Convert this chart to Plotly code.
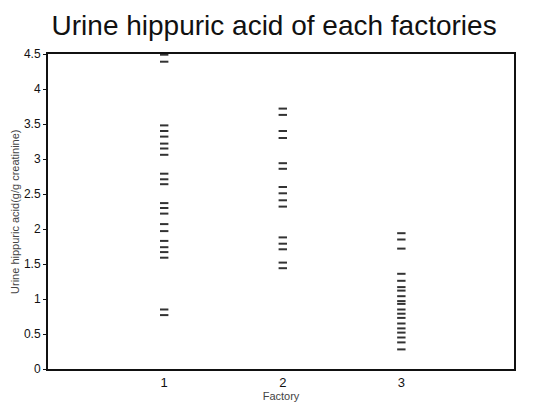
import plotly.graph_objects as go

factory = ["1", "2", "3"]
factory_x = [1, 2, 3]

hippuric_f1 = [4.49, 4.39, 3.48, 3.40, 3.32, 3.22, 3.15, 3.06, 2.79, 2.71, 2.64,
               2.37, 2.30, 2.22, 2.07, 1.97, 1.83, 1.74, 1.67, 1.59, 0.85, 0.77]
hippuric_f2 = [3.72, 3.63, 3.40, 3.30, 2.94, 2.86, 2.60, 2.51, 2.41, 2.32,
               1.88, 1.79, 1.71, 1.52, 1.44]
hippuric_f3 = [1.94, 1.85, 1.72, 1.36, 1.26, 1.17, 1.12, 1.04, 0.97, 0.93, 0.85,
               0.79, 0.73, 0.65, 0.58, 0.52, 0.45, 0.38, 0.28]

y_ticks = [0, 0.5, 1, 1.5, 2, 2.5, 3, 3.5, 4, 4.5]
y_tick_text = ["0", "0.5", "1", "1.5", "2", "2.5", "3", "3.5", "4", "4.5"]

fig = go.Figure()
for xv, vals in zip(factory_x, [hippuric_f1, hippuric_f2, hippuric_f3]):
    fig.add_trace(go.Scatter(
        x=[xv] * len(vals),
        y=vals,
        mode="markers",
        marker=dict(symbol="line-ew-open", size=6, color="#333",
                    line=dict(color="#333", width=2)),
        showlegend=False,
    ))

font = "Liberation Sans, Arial, sans-serif"
fig.update_layout(
    width=528,
    height=409,
    paper_bgcolor="white",
    plot_bgcolor="white",
    margin=dict(l=40, r=22, t=46, b=48),
    font=dict(family=font, color="#111"),
    title=dict(text="Urine hippuric acid of each factories",
               font=dict(size=28, color="#111"),
               x=0.504, xanchor="center", y=0.982, yanchor="top"),
)
fig.update_xaxes(
    range=[0.02, 3.95],
    tickvals=factory_x,
    ticktext=factory,
    ticks="",
    showgrid=False,
    zeroline=False,
    automargin=False,
    showline=True, linecolor="#111", linewidth=2, mirror=True,
    tickfont=dict(size=13),
    title=dict(text="Factory", font=dict(size=11, color="#444"), standoff=4),
)
fig.update_yaxes(
    range=[0, 4.5],
    tickvals=y_ticks,
    ticktext=y_tick_text,
    ticks="outside", ticklen=3, tickcolor="#111",
    showgrid=False,
    zeroline=False,
    automargin=False,
    showline=True, linecolor="#111", linewidth=2, mirror=True,
    tickfont=dict(size=12),
)
fig.add_annotation(
    text="Urine hippuric acid(g/g creatinine)",
    xref="paper", yref="paper", x=-0.072, y=0.5,
    xanchor="center", yanchor="middle", textangle=-90, showarrow=False,
    font=dict(size=11, color="#444"),
)

fig.write_html("out.html")
